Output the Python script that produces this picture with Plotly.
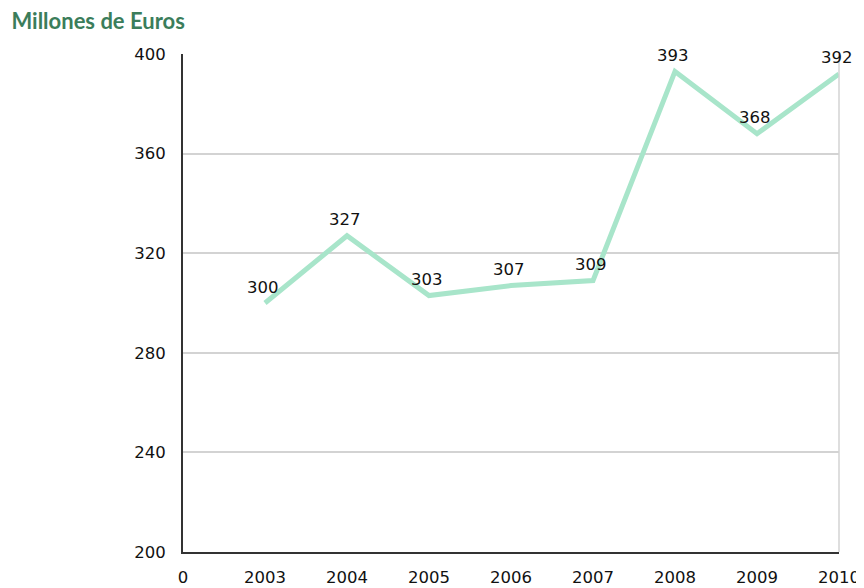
import plotly.graph_objects as go

years = ["2003", "2004", "2005", "2006", "2007", "2008", "2009", "2010"]
values = [300, 327, 303, 307, 309, 393, 368, 392]
tick_labels = ["0"] + years
y_ticks = [200, 240, 280, 320, 360, 400]

xpos = list(range(1, len(years) + 1))
label_font = dict(family="DejaVu Sans", size=16.5, color="#111111")

fig = go.Figure()
fig.add_trace(go.Scatter(
    x=xpos, y=values, mode="lines",
    line=dict(color="#a8e5ca", width=5),
    cliponaxis=False, hoverinfo="skip", showlegend=False,
))

annotations = [
    dict(x=x, y=v, xref="x", yref="y", text=str(v), showarrow=False,
         yshift=16, xshift=-2, font=label_font)
    for x, v in zip(xpos, values)
]

# page body has an 8px default margin, so the figure is 8px smaller
fig.update_layout(
    width=856, height=580,
    margin=dict(l=175, r=25, t=46, b=36, autoexpand=False),
    paper_bgcolor="white", plot_bgcolor="white",
    title=dict(text="<b>Millones de Euros</b>", x=0.004, xanchor="left",
               y=0.977, yanchor="middle",
               font=dict(family="Lato", size=22, color="#3b7d5b")),
    annotations=annotations,
    xaxis=dict(range=[0, 8], tickmode="array", tickvals=list(range(0, 9)),
               ticktext=tick_labels, showgrid=False, zeroline=False,
               showline=True, linecolor="#333333", linewidth=2,
               ticks="", ticklabelstandoff=9, automargin=False,
               tickfont=label_font),
    yaxis=dict(range=[200, 400], tickmode="array", tickvals=y_ticks,
               showgrid=True, gridcolor="#d3d3d3", gridwidth=1.5, zeroline=False,
               showline=True, linecolor="#333333", linewidth=2,
               ticks="", ticklabelstandoff=12, automargin=False,
               tickfont=label_font),
    shapes=[dict(type="line", xref="paper", yref="paper", x0=1, x1=1, y0=0, y1=1,
                 line=dict(color="#d3d3d3", width=1.5))],
)

fig.write_html("out.html")
